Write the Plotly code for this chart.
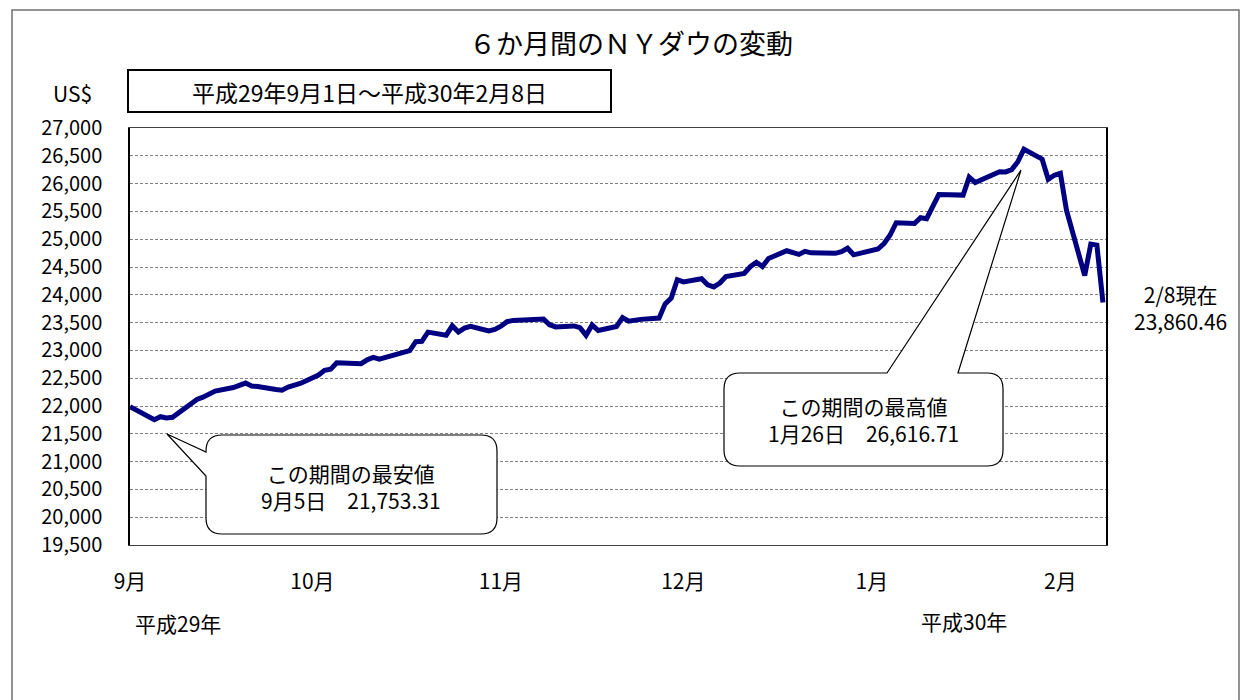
import plotly.graph_objects as go

# ---------------- data ----------------
dates = [
    "2017-09-01", "2017-09-05", "2017-09-06", "2017-09-07", "2017-09-08",
    "2017-09-11", "2017-09-12", "2017-09-13", "2017-09-14", "2017-09-15",
    "2017-09-18", "2017-09-19", "2017-09-20", "2017-09-21", "2017-09-22",
    "2017-09-25", "2017-09-26", "2017-09-27", "2017-09-28", "2017-09-29",
    "2017-10-02", "2017-10-03", "2017-10-04", "2017-10-05", "2017-10-06",
    "2017-10-09", "2017-10-10", "2017-10-11", "2017-10-12", "2017-10-13",
    "2017-10-16", "2017-10-17", "2017-10-18", "2017-10-19", "2017-10-20",
    "2017-10-23", "2017-10-24", "2017-10-25", "2017-10-26", "2017-10-27",
    "2017-10-30", "2017-10-31", "2017-11-01", "2017-11-02", "2017-11-03",
    "2017-11-06", "2017-11-07", "2017-11-08", "2017-11-09", "2017-11-10",
    "2017-11-13", "2017-11-14", "2017-11-15", "2017-11-16", "2017-11-17",
    "2017-11-20", "2017-11-21", "2017-11-22", "2017-11-24", "2017-11-27",
    "2017-11-28", "2017-11-29", "2017-11-30", "2017-12-01", "2017-12-04",
    "2017-12-05", "2017-12-06", "2017-12-07", "2017-12-08", "2017-12-11",
    "2017-12-12", "2017-12-13", "2017-12-14", "2017-12-15", "2017-12-18",
    "2017-12-19", "2017-12-20", "2017-12-21", "2017-12-22", "2017-12-26",
    "2017-12-27", "2017-12-28", "2017-12-29", "2018-01-02", "2018-01-03",
    "2018-01-04", "2018-01-05", "2018-01-08", "2018-01-09", "2018-01-10",
    "2018-01-11", "2018-01-12", "2018-01-16", "2018-01-17", "2018-01-18",
    "2018-01-19", "2018-01-22", "2018-01-23", "2018-01-24", "2018-01-25",
    "2018-01-26", "2018-01-29", "2018-01-30", "2018-01-31", "2018-02-01",
    "2018-02-02", "2018-02-05", "2018-02-06", "2018-02-07", "2018-02-08",
]
closes = [
    21987.56, 21753.31, 21807.64, 21784.78, 21797.79,
    22057.37, 22118.86, 22158.18, 22203.48, 22268.34,
    22331.35, 22370.80, 22412.59, 22359.23, 22349.59,
    22296.09, 22284.32, 22340.71, 22381.20, 22405.09,
    22557.60, 22641.67, 22661.64, 22775.39, 22773.67,
    22761.07, 22830.68, 22872.89, 22841.01, 22871.72,
    22956.96, 22997.44, 23157.60, 23163.04, 23328.63,
    23273.96, 23441.76, 23329.46, 23400.86, 23434.19,
    23348.74, 23377.24, 23435.01, 23516.26, 23539.19,
    23548.42, 23557.23, 23563.36, 23461.94, 23422.21,
    23439.70, 23409.47, 23271.28, 23458.36, 23358.24,
    23430.33, 23590.83, 23526.18, 23557.99, 23580.78,
    23836.71, 23940.68, 24272.35, 24231.59, 24290.05,
    24180.64, 24140.91, 24211.48, 24329.16, 24386.03,
    24504.80, 24585.43, 24508.66, 24651.74, 24792.20,
    24754.75, 24726.65, 24782.29, 24754.06, 24746.21,
    24774.30, 24837.51, 24719.22, 24824.01, 24922.68,
    25075.13, 25295.87, 25283.00, 25385.80, 25369.13,
    25574.73, 25803.19, 25792.86, 26115.65, 26017.81,
    26071.72, 26214.60, 26210.81, 26252.12, 26392.79,
    26616.71, 26439.48, 26076.89, 26149.39, 26186.71,
    25520.96, 24345.75, 24912.77, 24893.35, 23860.46,
]
month_ticks = ["2017-09-01", "2017-10-01", "2017-11-01", "2017-12-01", "2018-01-01", "2018-02-01"]
month_labels = ["9月", "10月", "11月", "12月", "1月", "2月"]
y_ticks = list(range(19500, 27001, 500))
y_labels = [f"{v:,}" for v in y_ticks]

title_text = "６か月間のＮＹダウの変動"
period_text = "平成29年9月1日～平成30年2月8日"
low_title, low_text = "この期間の最安値", "9月5日\u300021,753.31"
high_title, high_text = "この期間の最高値", "1月26日\u300026,616.71"
last_title, last_text = "2/8現在", "23,860.46"
era_labels = ["平成29年", "平成30年"]

# ---------------- layout geometry (pixels) ----------------
W, H = 1245, 700
L, R, T, B = 130, 1106, 128, 545
FONT = "Noto Sans CJK JP"


def px(x):
    return (x - L) / (R - L)


def py(y):
    return (B - y) / (B - T)


def P(x, y):
    return f"{px(x):.5f},{py(y):.5f}"


def callout_path(x0, y0, x1, y1, r, wedge):
    side, a, b, tip = wedge
    tx, ty = tip
    parts = [f"M {P(x0 + r, y0)}"]
    if side == "top":
        parts += [f"L {P(a, y0)}", f"L {P(tx, ty)}", f"L {P(b, y0)}"]
    parts += [f"L {P(x1 - r, y0)}", f"Q {P(x1, y0)} {P(x1, y0 + r)}",
              f"L {P(x1, y1 - r)}", f"Q {P(x1, y1)} {P(x1 - r, y1)}",
              f"L {P(x0 + r, y1)}", f"Q {P(x0, y1)} {P(x0, y1 - r)}"]
    if side == "left":
        parts += [f"L {P(x0, b)}", f"L {P(tx, ty)}", f"L {P(x0, a)}"]
    parts += [f"L {P(x0, y0 + r)}", f"Q {P(x0, y0)} {P(x0 + r, y0)}", "Z"]
    return " ".join(parts)


fig = go.Figure()
fig.add_trace(go.Scatter(
    x=dates, y=closes, mode="lines",
    line=dict(color="#000080", width=5),
    hoverinfo="x+y", showlegend=False,
))

shapes = [
    # outer frame
    dict(type="rect", xref="paper", yref="paper", x0=px(12), x1=px(1239), y0=py(10), y1=py(720),
         line=dict(color="#707070", width=1.5), fillcolor="rgba(0,0,0,0)", layer="below"),
    # period box
    dict(type="rect", xref="paper", yref="paper", x0=px(128), x1=px(611), y0=py(70), y1=py(112),
         line=dict(color="black", width=2), fillcolor="white", layer="above"),
    # low callout
    dict(type="path", xref="paper", yref="paper",
         path=callout_path(206, 435, 497, 534, 16, ("left", 452, 476, (167, 434))),
         line=dict(color="black", width=1.2), fillcolor="white", layer="above"),
    # high callout
    dict(type="path", xref="paper", yref="paper",
         path=callout_path(724, 373, 1003, 466, 16, ("top", 887, 958, (1021, 170))),
         line=dict(color="black", width=1.2), fillcolor="white", layer="above"),
]

annotations = []


def text(x, y, s, size, xanchor="center"):
    annotations.append(dict(xref="paper", yref="paper", x=px(x), y=py(y), text=s, showarrow=False,
                            xanchor=xanchor, yanchor="middle", align="center",
                            font=dict(family=FONT, size=size, color="black")))


text(631, 43, title_text, 27)
text(369, 92, period_text, 23)
text(72, 93, "US$", 21)
text(351, 486, low_title + "<br>" + low_text, 21)
text(863, 419, high_title + "<br>" + high_text, 21)
text(1180, 307, last_title + "<br>" + last_text, 21)
text(178, 623, era_labels[0], 21)
text(964, 621, era_labels[1], 21)

fig.update_layout(
    width=W, height=H,
    margin=dict(l=L, r=W - R, t=T, b=H - B, pad=0),
    paper_bgcolor="white", plot_bgcolor="white",
    font=dict(family=FONT, color="black"),
    shapes=shapes, annotations=annotations,
    showlegend=False,
    xaxis=dict(
        type="date", range=["2017-09-01", "2018-02-08 12:00"],
        tickmode="array", tickvals=month_ticks, ticktext=month_labels,
        showgrid=False, zeroline=False,
        showline=True, linecolor="#404040", linewidth=1.2, mirror=True,
        ticks="", ticklabelstandoff=18,
        tickfont=dict(family=FONT, size=21, color="black"),
    ),
    yaxis=dict(
        range=[19500, 27000],
        tickmode="array", tickvals=y_ticks, ticktext=y_labels,
        showgrid=True, gridcolor="#808080", gridwidth=1, griddash="3px,2px",
        zeroline=False,
        showline=True, linecolor="black", linewidth=1.5, mirror=True,
        ticks="", ticklabelstandoff=22,
        tickfont=dict(family=FONT, size=20, color="black"),
    ),
)

fig.write_html(
    "out.html",
    config={"displayModeBar": False},
    post_script="document.body.style.margin='0';document.body.style.overflow='hidden';",
)
